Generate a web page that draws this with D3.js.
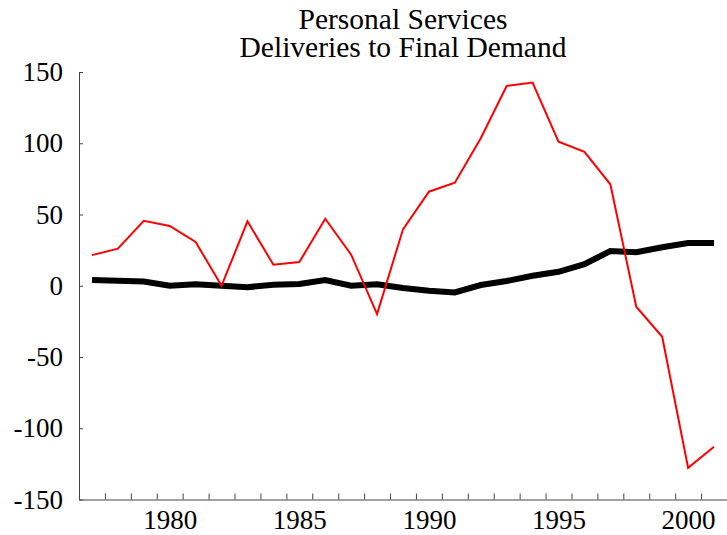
<!DOCTYPE html>
<html>
<head>
<meta charset="utf-8">
<script src="https://cdn.jsdelivr.net/npm/d3@7"></script>
<style>
  html, body { margin: 0; padding: 0; background: #fff; }
  svg { display: block; }
  text { font-family: "Liberation Serif", "Times New Roman", serif; fill: #000; }
</style>
</head>
<body>
<svg id="chart" width="727" height="535"></svg>
<script>
// Annual series, 1977-2001
const years = d3.range(1977, 2002);
const thickSeries = [4, 3.5, 3, 0, 1, 0, -1, 0.7, 1.2, 4, 0, 1, -1.6, -3.5, -4.7, 0.5, 3.3, 7, 9.8, 15.2, 24.4, 23.5, 27, 30, 30];
const redSeries = [21.5, 26, 45.6, 42, 30.7, 0, 45.2, 14.8, 16.6, 47, 21.8, -19.9, 39.6, 66, 72.3, 103.5, 140.2, 142.6, 101.1, 93.9, 71.2, -14.7, -35.8, -127.8, -113];
const yTicks = [-150, -100, -50, 0, 50, 100, 150];
const xLabelYears = [1980, 1985, 1990, 1995, 2000];
const titleLines = ["Personal Services", "Deliveries to Final Demand"];

const svg = d3.select("#chart");
const plotLeft = 79, plotRight = 727, plotTop = 72, plotBottom = 499.5;

const x = d3.scaleLinear().domain([1976.5, 2001.5]).range([plotLeft, plotRight]);
const y = d3.scaleLinear().domain([-150, 150]).range([plotBottom, plotTop]);

// Two-line title, tightly spaced
svg.selectAll("text.title")
  .data(titleLines)
  .join("text")
  .attr("class", "title")
  .attr("text-anchor", "middle")
  .attr("font-size", 29.5)
  .attr("x", (plotLeft + plotRight) / 2)
  .attr("y", (d, i) => 29.3 + i * 28)
  .text(d => d);

// Y axis: inward ticks, plain hyphen for negatives
const yAxis = svg.append("g")
  .attr("transform", `translate(${plotLeft},0)`)
  .call(d3.axisLeft(y).tickValues(yTicks).tickSize(-4).tickSizeOuter(0).tickPadding(16).tickFormat(d => String(d)));
yAxis.select(".domain").attr("stroke", "#444");
yAxis.selectAll(".tick line").attr("stroke", "#444");
yAxis.selectAll("text").attr("font-size", 27).attr("font-family", "Liberation Serif, serif");

// X axis: inward ticks on year boundaries
const boundaries = d3.range(1976.5, 2002, 1);
const xAxis = svg.append("g")
  .attr("transform", `translate(0,${plotBottom})`)
  .call(d3.axisBottom(x).tickValues(boundaries).tickSize(-6).tickSizeOuter(0).tickFormat(""));
xAxis.select(".domain").attr("stroke", "#444");
xAxis.selectAll(".tick line").attr("stroke", "#444");

// X labels centred on the years
const xLab = svg.append("g")
  .attr("transform", `translate(0,${plotBottom})`)
  .call(d3.axisBottom(x).tickValues(xLabelYears).tickSize(0).tickFormat(d => String(d)));
xLab.select(".domain").remove();
xLab.selectAll("text").attr("font-size", 27).attr("font-family", "Liberation Serif, serif")
  .attr("y", 29).attr("dy", 0);

const line = d3.line().x((d, i) => x(years[i])).y(d => y(d));

svg.append("path")
  .datum(thickSeries)
  .attr("fill", "none")
  .attr("stroke", "#000")
  .attr("stroke-width", 6)
  .attr("d", line);

svg.append("path")
  .datum(redSeries)
  .attr("fill", "none")
  .attr("stroke", "#ff0000")
  .attr("stroke-width", 2)
  .attr("d", line);
</script>
</body>
</html>
